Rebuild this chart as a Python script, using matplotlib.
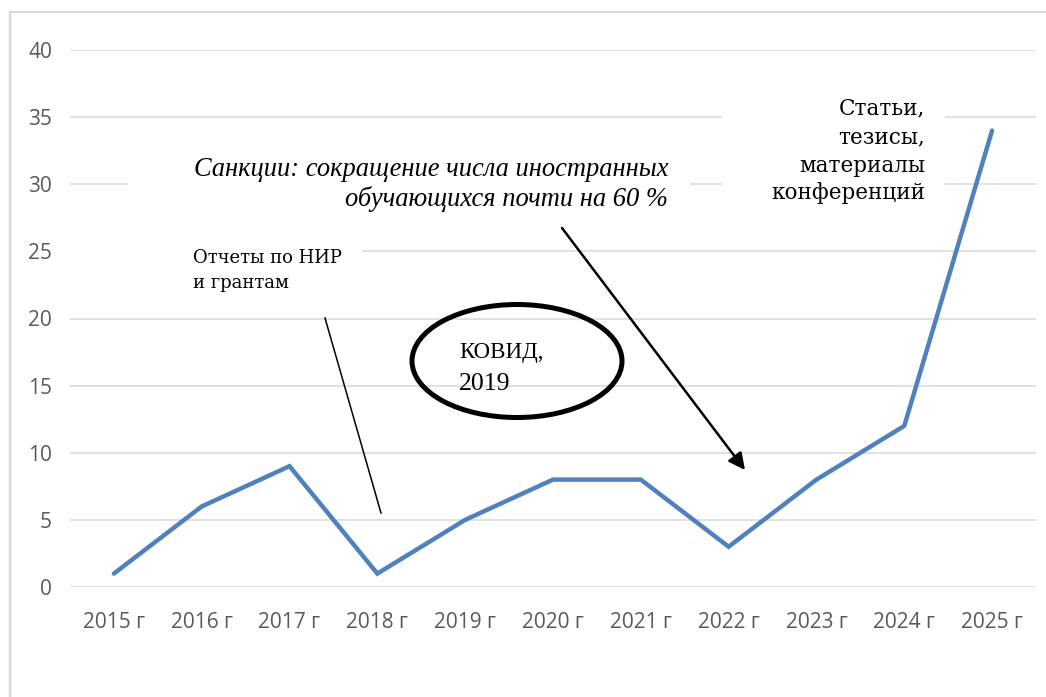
import matplotlib.pyplot as plt
from matplotlib.patches import Ellipse, Rectangle

# данные
years = ["2015 г", "2016 г", "2017 г", "2018 г", "2019 г", "2020 г",
         "2021 г", "2022 г", "2023 г", "2024 г", "2025 г"]
counts = [1, 6, 9, 1, 5, 8, 8, 3, 8, 12, 34]
y_ticks = [0, 5, 10, 15, 20, 25, 30, 35, 40]

W, H = 1046, 697
GRID = "#d9d9d9"
BLUE = "#4f81bd"


def px(x, y):
    # пиксели картинки (сверху вниз) -> доли фигуры
    return x / W, 1 - y / H


def main():
    fig = plt.figure(figsize=(W / 100, H / 100), dpi=100)
    ax = fig.add_axes([70 / W, (H - 587) / H, (1036 - 70) / W, (587 - 50) / H])

    ax.plot(range(len(years)), counts, color=BLUE, linewidth=3.2,
            solid_joinstyle="miter", solid_capstyle="round", zorder=2)

    ax.set_xlim(-0.5, len(years) - 0.5)
    ax.set_ylim(0, 40)
    ax.set_yticks(y_ticks)
    ax.set_xticks(range(len(years)))
    ax.set_xticklabels(years, family=["Liberation Sans Narrow", "Open Sans"],
                       fontsize=15, color="#595959")
    ax.tick_params(axis="y", length=0, pad=13, labelsize=15, labelcolor="#595959")
    ax.tick_params(axis="x", length=0, pad=18)
    for lab in ax.get_yticklabels():
        lab.set_family(["Open Sans", "DejaVu Sans"])

    ax.set_axisbelow(True)
    ax.grid(axis="y", color=GRID, linewidth=1.1)
    for s in ax.spines.values():
        s.set_visible(False)

    # рамка диаграммы
    fig.patches.append(Rectangle(px(10, 720), (1100 - 10) / W, (720 - 12) / H,
                                 transform=fig.transFigure, fill=False,
                                 edgecolor=GRID, linewidth=1.6))

    # белые подложки надписей (прерывают сетку)
    for x0, y0, x1, y1 in [(127, 132, 690, 228), (722, 92, 945, 212), (60, 232, 362, 300)]:
        ax.add_patch(Rectangle(px(x0, y1), (x1 - x0) / W, (y1 - y0) / H,
                               transform=fig.transFigure, facecolor="white",
                               edgecolor="none", zorder=1.5))

    # Санкции
    tx, ty = px(668, 176)
    fig.text(tx, ty, "Санкции: сокращение числа иностранных", ha="right", va="baseline",
             family="Liberation Serif", style="italic", fontsize=19.1)
    tx, ty = px(668, 206)
    fig.text(tx, ty, "обучающихся почти на 60 %", ha="right", va="baseline",
             family="Liberation Serif", style="italic", fontsize=19.1)

    # Статьи
    for line, yb in zip(["Статьи,", "тезисы,", "материалы", "конференций"],
                        [114, 143, 172, 199]):
        tx, ty = px(925, yb)
        fig.text(tx, ty, line, ha="right", va="baseline", family="DejaVu Serif",
                 fontsize=15.5)

    # Отчеты
    for line, yb in zip(["Отчеты по НИР", "и грантам"], [263, 288]):
        tx, ty = px(193, yb)
        fig.text(tx, ty, line, ha="left", va="baseline", family="DejaVu Serif",
                 fontsize=13)

    # КОВИД
    fig.patches.append(Ellipse(px(517, 361), 210 / W, 113 / H, transform=fig.transFigure,
                               fill=False, edgecolor="black", linewidth=3.6))
    for line, yb, fs in zip(["КОВИД,", "2019"], [358, 390], [16.5, 18.5]):
        tx, ty = px(459, yb)
        fig.text(tx, ty, line, ha="left", va="baseline", family="Liberation Serif",
                 fontsize=fs)

    # линии и стрелка
    fig.add_artist(plt.Line2D([325 / W, 381 / W], [1 - 318 / H, 1 - 513 / H],
                              color="black", linewidth=1.1))
    ax.annotate("", xy=px(745, 470), xytext=px(562, 228),
                xycoords="figure fraction", textcoords="figure fraction",
                arrowprops=dict(arrowstyle="-|>,head_length=1.0,head_width=0.5",
                                color="black", linewidth=1.8, shrinkA=0, shrinkB=0))

    fig.savefig("out.png", dpi=100)


if __name__ == "__main__":
    main()
